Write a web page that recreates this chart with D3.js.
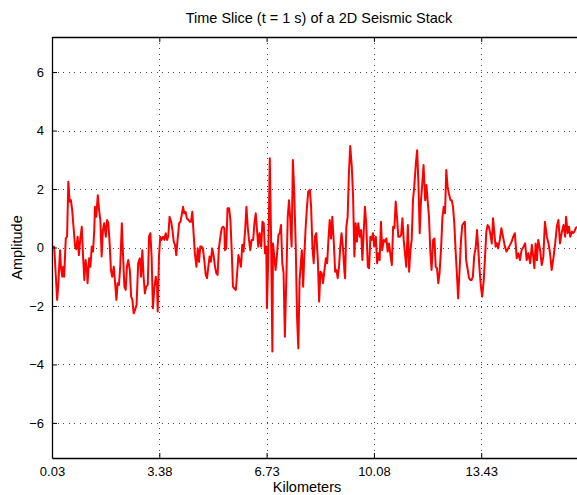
<!DOCTYPE html>
<html>
<head>
<meta charset="utf-8">
<script src="https://cdn.jsdelivr.net/npm/d3@7"></script>
<style>
  html, body { margin: 0; padding: 0; background: #fff; overflow: hidden; }
  svg { display: block; font-family: "Liberation Sans", Arial, Helvetica, sans-serif; }
</style>
</head>
<body>
<svg id="chart" width="577" height="495"></svg>
<script>
// Trace positions along the line (km)
const distanceKm = [
  0.04,0.10,0.19,0.23,0.28,0.31,0.35,0.38,0.41,0.46,
  0.50,0.54,0.58,0.62,0.66,0.71,0.75,0.79,0.83,0.87,
  0.91,0.96,1.00,1.04,1.08,1.12,1.14,1.19,1.23,1.27,
  1.31,1.35,1.37,1.41,1.46,1.50,1.54,1.58,1.62,1.66,
  1.71,1.75,1.79,1.83,1.87,1.91,1.96,2.00,2.04,2.08,
  2.12,2.16,2.21,2.25,2.29,2.33,2.37,2.41,2.46,2.50,
  2.54,2.58,2.62,2.67,2.72,2.77,2.81,2.85,2.89,2.93,
  2.97,3.02,3.06,3.10,3.14,3.18,3.22,3.27,3.31,3.33,
  3.37,3.41,3.45,3.50,3.54,3.58,3.62,3.66,3.70,3.75,
  3.79,3.83,3.87,3.91,3.95,4.00,4.04,4.08,4.12,4.16,
  4.20,4.24,4.29,4.33,4.37,4.41,4.45,4.49,4.54,4.58,
  4.62,4.66,4.70,4.74,4.79,4.83,4.87,4.91,4.95,4.99,
  5.03,5.08,5.12,5.16,5.20,5.24,5.28,5.33,5.37,5.41,
  5.43,5.47,5.51,5.56,5.60,5.64,5.68,5.72,5.77,5.81,
  5.85,5.89,5.93,5.97,6.01,6.06,6.10,6.14,6.18,6.22,
  6.26,6.31,6.35,6.39,6.43,6.47,6.51,6.56,6.60,6.64,
  6.68,6.72,6.74,6.78,6.83,6.87,6.91,6.93,6.97,7.01,
  7.05,7.10,7.14,7.18,7.22,7.26,7.30,7.35,7.39,7.43,
  7.47,7.51,7.55,7.59,7.64,7.68,7.72,7.76,7.83,7.87,
  7.91,7.95,7.99,8.03,8.08,8.12,8.16,8.20,8.24,8.28,
  8.33,8.37,8.41,8.45,8.49,8.53,8.58,8.62,8.66,8.70,
  8.74,8.78,8.83,8.87,8.91,8.95,8.99,9.03,9.07,9.12,
  9.16,9.18,9.22,9.26,9.30,9.34,9.39,9.43,9.47,9.51,
  9.55,9.59,9.64,9.68,9.72,9.76,9.80,9.84,9.89,9.93,
  9.97,10.01,10.05,10.09,10.14,10.18,10.22,10.26,10.30,10.34,
  10.39,10.43,10.47,10.51,10.55,10.59,10.64,10.68,10.72,10.76,
  10.80,10.84,10.89,10.93,10.97,11.01,11.05,11.09,11.14,11.18,
  11.22,11.26,11.30,11.34,11.39,11.43,11.47,11.51,11.55,11.59,
  11.63,11.68,11.72,11.76,11.80,11.84,11.88,11.93,11.97,12.01,
  12.05,12.09,12.13,12.18,12.22,12.26,12.30,12.34,12.38,12.42,
  12.47,12.51,12.55,12.59,12.63,12.67,12.71,12.76,12.80,12.84,
  12.88,12.92,12.96,13.01,13.05,13.09,13.13,13.17,13.21,13.26,
  13.30,13.34,13.38,13.42,13.46,13.51,13.55,13.59,13.63,13.67,
  13.71,13.76,13.80,13.84,13.88,13.92,13.96,14.01,14.06,14.11,
  14.17,14.22,14.27,14.33,14.38,14.43,14.48,14.54,14.59,14.64,
  14.69,14.75,14.80,14.85,14.90,14.96,15.01,15.06,15.09,15.13,
  15.17,15.21,15.27,15.32,15.37,15.42,15.48,15.53,15.58,15.63,
  15.69,15.74,15.79,15.84,15.89,15.94,16.00,16.05,16.08,16.13,
  16.17,16.21,16.26,16.30,16.34,16.38,16.42
];

// Stack amplitude at t = 1 s for each trace
const amplitude = [
  0.05,0.01,-1.79,-1.22,-0.09,-0.66,-1.00,-0.66,-1.00,0.31,
  0.37,2.25,1.57,1.62,1.28,0.60,0.03,-0.06,0.37,-0.26,
  0.26,0.71,-0.31,-1.11,-0.43,-0.77,-1.22,-0.37,-0.66,0.03,
  -0.14,0.60,1.39,1.05,1.79,1.28,0.94,-0.31,0.60,0.83,
  0.37,0.94,0.83,0.14,-0.77,-1.00,-0.66,-1.22,-1.79,-1.22,
  -1.28,-0.66,0.83,-0.31,-1.34,-1.45,-0.66,-0.43,-0.77,-1.68,
  -1.79,-2.25,-2.14,-1.97,-0.54,-0.37,-1.00,-0.09,-1.00,-1.57,
  -1.34,-1.28,0.37,0.49,-0.31,-2.08,-1.45,-1.00,-1.34,-2.19,
  -0.31,0.37,0.26,0.37,0.26,0.49,0.26,0.37,1.05,0.88,
  0.60,0.20,0.09,-0.26,0.26,0.83,0.88,1.11,1.39,1.17,
  1.22,1.00,0.94,0.88,0.88,1.22,0.49,-0.20,-0.66,-0.03,
  -0.49,0.03,0.03,-0.03,-0.49,-0.94,-1.05,-0.66,-0.31,-0.49,
  -0.03,-0.31,-0.66,-0.88,-0.94,-0.03,0.31,0.66,0.71,0.66,
  -0.09,-0.03,1.34,1.34,0.94,-0.09,-1.34,-1.40,-1.45,-0.88,
  -0.26,-0.43,-0.66,0.09,-0.14,0.60,1.39,0.71,0.26,-0.09,
  0.26,0.26,0.83,1.17,0.60,0.03,0.49,0.03,0.88,0.83,
  -0.20,0.03,-2.08,-0.43,3.05,0.26,-3.56,0.14,-0.31,-0.77,
  -0.31,0.43,0.49,0.77,-0.54,-0.88,-3.05,-0.88,1.05,1.62,
  0.94,0.03,2.99,1.97,0.03,-2.37,-3.45,-1.11,-0.09,-1.34,
  -0.20,0.71,1.39,1.91,1.97,1.39,0.03,-0.54,0.37,0.49,
  -0.43,-1.85,-0.83,-0.88,-1.22,-0.83,-0.37,-0.54,0.26,0.94,
  0.31,1.05,0.14,-0.83,-0.77,-1.05,-0.66,0.03,0.49,-0.09,
  -0.83,-1.05,0.71,1.05,2.54,3.47,2.76,1.74,-0.31,0.83,
  0.20,0.83,0.37,0.60,-0.43,0.49,1.39,0.83,-0.66,-0.71,
  0.37,0.26,0.49,0.03,0.37,-0.54,-0.20,-0.43,0.88,-0.09,
  0.26,0.20,0.31,-0.14,0.14,-0.20,-0.60,0.71,0.66,1.57,
  1.05,0.37,0.37,0.43,1.00,0.26,-0.20,-0.66,0.77,-0.83,
  -0.09,0.26,1.62,2.08,2.88,3.33,2.19,0.49,1.62,2.19,
  2.82,1.62,2.14,1.57,1.05,-0.09,-0.77,0.26,0.31,-0.66,
  -0.71,-1.22,-0.88,0.03,1.05,1.39,1.17,2.65,2.08,1.85,
  1.62,1.62,1.39,0.83,-0.09,-0.88,-1.74,-0.66,0.26,0.77,
  0.83,0.88,-0.43,-0.77,-1.05,-1.11,-1.11,-1.00,-0.31,0.03,
  0.60,-0.09,-0.77,-1.34,-1.68,-1.11,-0.31,0.54,0.77,0.71,
  0.49,0.14,1.00,0.49,0.03,0.15,-0.03,0.26,0.66,0.37,
  0.03,-0.14,-0.03,0.09,0.20,0.37,0.49,-0.37,-0.20,-0.43,
  -0.09,0.03,0.14,-0.43,-0.20,-0.54,0.09,-0.37,-0.71,0.14,
  -0.43,0.26,-0.09,-0.60,-0.31,0.88,0.37,0.14,-0.20,-0.77,
  -0.31,0.14,0.71,0.94,0.14,0.49,0.77,0.37,1.05,0.49,
  0.71,0.37,0.54,0.49,0.54,0.66,0.71
];

// Axis ticks and limits
const xTicks = [0.03, 3.38, 6.73, 10.08, 13.43];
const xTickLabels = ["0.03", "3.38", "6.73", "10.08", "13.43"];
const yTicks = [-6, -4, -2, 0, 2, 4, 6];
const xLimits = [0.03, 16.452];
const yLimits = [-7.2, 7.2];

const titleText = "Time Slice (t = 1 s) of a 2D Seismic Stack";
const xLabelText = "Kilometers";
const yLabelText = "Amplitude";

// Plot box in pixels
const box = { left: 52, right: 578, top: 37, bottom: 458 };

const svg = d3.select("#chart");

const x = d3.scaleLinear().domain(xLimits).range([box.left, box.right]);
const y = d3.scaleLinear().domain(yLimits).range([box.bottom, box.top]);

svg.append("rect")
  .attr("width", 577).attr("height", 495).attr("fill", "#fff");

svg.append("defs").append("clipPath").attr("id", "plot-clip")
  .append("rect")
  .attr("x", box.left).attr("y", box.top)
  .attr("width", box.right - box.left).attr("height", box.bottom - box.top);

// Dotted grid
const grid = svg.append("g").attr("class", "grid")
  .attr("stroke", "#444").attr("stroke-width", 1)
  .attr("stroke-dasharray", "1,4.5").attr("shape-rendering", "crispEdges");

grid.selectAll("line.gx").data(xTicks).join("line")
  .attr("class", "gx")
  .attr("x1", d => Math.round(x(d)) + 0.5).attr("x2", d => Math.round(x(d)) + 0.5)
  .attr("y1", box.top).attr("y2", box.bottom);

grid.selectAll("line.gy").data(yTicks).join("line")
  .attr("class", "gy")
  .attr("y1", d => Math.round(y(d)) + 0.5).attr("y2", d => Math.round(y(d)) + 0.5)
  .attr("x1", box.left).attr("x2", box.right);

// Seismic amplitude trace
const points = d3.range(Math.min(distanceKm.length, amplitude.length))
  .map(i => [distanceKm[i], amplitude[i]]);

const line = d3.line()
  .x(d => x(d[0]))
  .y(d => y(d[1]));

svg.append("path")
  .datum(points)
  .attr("clip-path", "url(#plot-clip)")
  .attr("fill", "none")
  .attr("stroke", "#ff0000")
  .attr("stroke-width", 2)
  .attr("stroke-linejoin", "round")
  .attr("d", line);

// Axes with inward ticks
const bottomAxis = d3.axisBottom(x)
  .tickValues(xTicks)
  .tickFormat((d, i) => xTickLabels[i])
  .tickSizeInner(-5).tickSizeOuter(0).tickPadding(9);

const leftAxis = d3.axisLeft(y)
  .tickValues(yTicks)
  .tickFormat(d => d3.format("d")(d))
  .tickSizeInner(-5).tickSizeOuter(0).tickPadding(8);

const topAxis = d3.axisTop(x)
  .tickValues(xTicks).tickFormat("")
  .tickSizeInner(-5).tickSizeOuter(0);

function styleAxis(g) {
  g.attr("font-family", null).attr("font-size", null);
  g.select(".domain").attr("stroke", "#000").attr("stroke-width", 1.3);
  g.selectAll(".tick line").attr("stroke", "#000").attr("stroke-width", 1);
  g.selectAll(".tick text").attr("fill", "#000").style("font-size", "13px");
}

svg.append("g")
  .attr("transform", `translate(0,${box.bottom})`)
  .call(bottomAxis).call(styleAxis);

svg.append("g")
  .attr("transform", `translate(0,${box.top})`)
  .call(topAxis).call(styleAxis);

svg.append("g")
  .attr("transform", `translate(${box.left},0)`)
  .call(leftAxis).call(styleAxis);

// Title and axis labels
svg.append("text")
  .attr("x", 319).attr("y", 23)
  .attr("text-anchor", "middle")
  .style("font-size", "14.5px")
  .text(titleText);

svg.append("text")
  .attr("x", (box.left + box.right) / 2 - 8).attr("y", 492)
  .attr("text-anchor", "middle")
  .style("font-size", "14.5px")
  .text(xLabelText);

svg.append("text")
  .attr("transform", `translate(22,${y(0)}) rotate(-90)`)
  .attr("text-anchor", "middle")
  .style("font-size", "14.5px")
  .text(yLabelText);
</script>
</body>
</html>
